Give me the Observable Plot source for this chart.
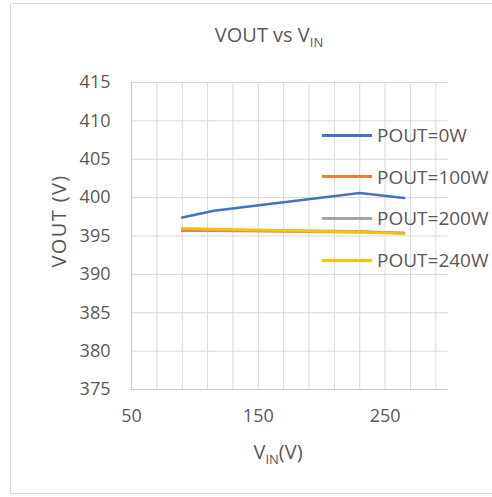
<!DOCTYPE html>
<html>
<head>
<meta charset="utf-8">
<script src="https://cdn.jsdelivr.net/npm/d3@7"></script>
<script src="https://cdn.jsdelivr.net/npm/@observablehq/plot@0.6"></script>
<style>
  html, body { margin: 0; padding: 0; background: #fff; }
  #wrap { position: relative; width: 492px; height: 497px; overflow: hidden; font-family: "Open Sans", "Liberation Sans", sans-serif; color: #595959; }
  #wrap svg { position: absolute; left: 0; top: 0; }
  .frame { position: absolute; left: 10px; top: 3px; width: 500px; height: 491px; border: 1px solid #d9d9d9; box-sizing: border-box; }
  .title { position: absolute; left: 169px; width: 200px; top: 21px; text-align: center; font-size: 20px; line-height: normal; white-space: nowrap; }
  .sub { font-size: 13px; position: relative; top: 5px; }
  .xtitle { position: absolute; left: 178px; width: 200px; top: 438px; text-align: center; font-size: 20px; white-space: nowrap; }
  .ytitle { position: absolute; left: 58px; top: 221px; transform: translate(-50%, -50%) rotate(-90deg); font-size: 20px; letter-spacing: 1.4px; white-space: nowrap; }
  .leg { position: absolute; left: 322px; height: 26px; display: flex; align-items: center; font-size: 19px; transform: translateY(-50%); white-space: nowrap; }
  .leg .sw { width: 50px; height: 3px; margin-right: 5px; flex: none; }
</style>
</head>
<body>
<div id="wrap">
  <div class="frame"></div>
</div>
<script>
const vin = [90, 115, 230, 265];
const seriesNames = ["POUT=0W", "POUT=100W", "POUT=200W", "POUT=240W"];
const pout0 = [397.4, 398.3, 400.6, 399.95];
const pout100 = [395.7, 395.7, 395.5, 395.4];
const pout200 = [395.9, 395.8, 395.6, 395.4];
const pout240 = [396.0, 395.9, 395.5, 395.3];
const colors = ["#4472C4", "#ED7D31", "#A5A5A5", "#FFC000"];
const xTicks = [50, 150, 250];
const yTicks = [375, 380, 385, 390, 395, 400, 405, 410, 415];
const xGrid = d3.range(50, 300, 20);

const allSeries = [pout0, pout100, pout200, pout240];
const data = [];
allSeries.forEach((vals, i) => vals.forEach((v, j) => data.push({series: seriesNames[i], vin: vin[j], vout: v})));

const chart = Plot.plot({
  width: 492,
  height: 497,
  marginLeft: 131,
  marginRight: 44,
  marginTop: 82,
  marginBottom: 108,
  x: {domain: [50, 300]},
  y: {domain: [375, 415]},
  color: {domain: seriesNames, range: colors},
  style: {fontFamily: "'Open Sans', 'Liberation Sans', sans-serif", color: "#595959", background: "transparent"},
  marks: [
    Plot.gridX(xGrid, {stroke: "#d9d9d9", strokeOpacity: 1, strokeWidth: 1}),
    Plot.gridY(yTicks, {stroke: "#d9d9d9", strokeOpacity: 1, strokeWidth: 1}),
    Plot.ruleX([50], {stroke: "#c8c8c8", strokeWidth: 1.2}),
    Plot.ruleY([375], {stroke: "#c8c8c8", strokeWidth: 1.2}),
    Plot.axisX(xTicks, {tickSize: 0, tickPadding: 20, fontSize: 18, label: null, fill: "#595959"}),
    Plot.axisY(yTicks, {tickSize: 0, tickPadding: 21, fontSize: 18, label: null, fill: "#595959"}),
    Plot.line(data, {x: "vin", y: "vout", z: "series", stroke: "series", strokeWidth: 2.6, curve: "linear"})
  ]
});
const wrap = document.getElementById("wrap");
wrap.appendChild(chart);

const title = document.createElement("div");
title.className = "title";
title.innerHTML = 'VOUT vs V<span class="sub">IN</span>';
wrap.appendChild(title);

const xt = document.createElement("div");
xt.className = "xtitle";
xt.innerHTML = 'V<span class="sub">IN</span>(V)';
wrap.appendChild(xt);

const yt = document.createElement("div");
yt.className = "ytitle";
yt.textContent = "VOUT (V)";
wrap.appendChild(yt);

const legTops = [135, 176.7, 218.3, 260];
seriesNames.forEach((name, i) => {
  const d = document.createElement("div");
  d.className = "leg";
  d.style.top = legTops[i] + "px";
  d.innerHTML = `<span class="sw" style="background:${colors[i]}"></span><span>${name}</span>`;
  wrap.appendChild(d);
});
</script>
</body>
</html>
